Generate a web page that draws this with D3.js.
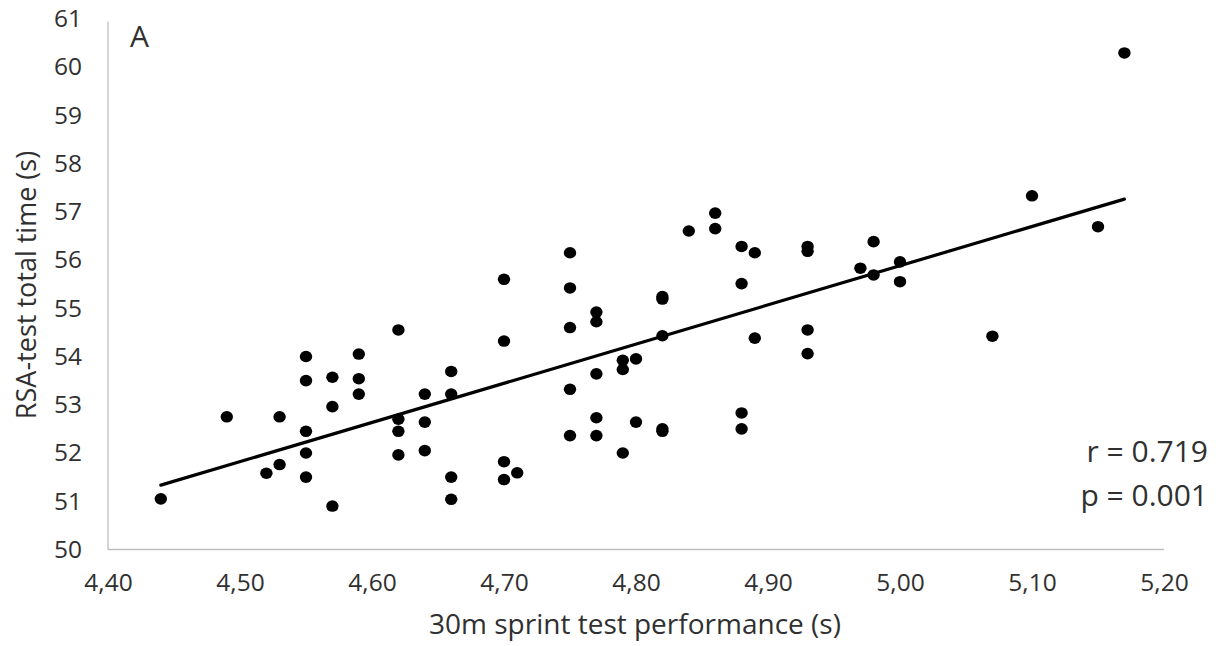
<!DOCTYPE html>
<html>
<head>
<meta charset="utf-8">
<script src="https://cdn.jsdelivr.net/npm/d3@7"></script>
<style>
  html, body { margin: 0; padding: 0; background: #fff; }
  svg { display: block; }
  text { font-family: "Open Sans", sans-serif; fill: #303030; }
</style>
</head>
<body>
<svg id="chart" width="1226" height="646"></svg>
<script>
// 30m sprint test performance (s)
const sprint = [
  4.44, 4.49, 4.52, 4.53, 4.53, 4.55, 4.55, 4.55, 4.55, 4.55,
  4.57, 4.57, 4.57, 4.59, 4.59, 4.59, 4.62, 4.62, 4.62, 4.62,
  4.64, 4.64, 4.64, 4.66, 4.66, 4.66, 4.66, 4.70, 4.70, 4.70,
  4.70, 4.71, 4.75, 4.75, 4.75, 4.75, 4.75, 4.77, 4.77, 4.77,
  4.77, 4.77, 4.79, 4.79, 4.79, 4.80, 4.80, 4.82, 4.82, 4.82,
  4.82, 4.82, 4.84, 4.86, 4.86, 4.88, 4.88, 4.88, 4.88, 4.89,
  4.89, 4.93, 4.93, 4.93, 4.93, 4.97, 4.98, 4.98, 5.00, 5.00,
  5.07, 5.10, 5.15, 5.17
];
// RSA-test total time (s)
const rsa = [
  51.05, 52.75, 51.58, 52.75, 51.76, 54.00, 53.50, 52.45, 52.00, 51.50,
  53.57, 52.96, 50.90, 54.05, 53.54, 53.22, 54.55, 52.70, 52.45, 51.96,
  53.22, 52.64, 52.05, 53.69, 53.22, 51.50, 51.04, 55.60, 54.32, 51.82,
  51.45, 51.59, 56.15, 55.42, 54.60, 53.32, 52.36, 54.92, 54.72, 53.64,
  52.73, 52.36, 53.92, 53.73, 52.00, 53.95, 52.64, 55.24, 55.19, 54.43,
  52.50, 52.45, 56.60, 56.97, 56.65, 56.28, 55.51, 52.83, 52.50, 56.15,
  54.38, 56.28, 56.18, 54.55, 54.06, 55.83, 56.38, 55.69, 55.96, 55.55,
  54.42, 57.33, 56.69, 60.29
];
const xTicks = [4.40, 4.50, 4.60, 4.70, 4.80, 4.90, 5.00, 5.10, 5.20];
const yTicks = [50, 51, 52, 53, 54, 55, 56, 57, 58, 59, 60, 61];
const xTitle = "30m sprint test performance (s)";
const yTitle = "RSA-test total time (s)";
const panelLabel = "A";
const statLines = ["r = 0.719", "p = 0.001"];

const svg = d3.select("#chart");
const x = d3.scaleLinear().domain([4.40, 5.20]).range([108, 1164]);
const y = d3.scaleLinear().domain([50, 61]).range([549.5, 18.7]);

const points = sprint.map((v, i) => ({ x: v, y: rsa[i] }));

// axes lines
svg.append("line")
  .attr("x1", x(4.40)).attr("x2", x(4.40))
  .attr("y1", y(61) + 3).attr("y2", y(50))
  .attr("stroke", "#bfbfbf").attr("stroke-width", 1.3);
svg.append("line")
  .attr("x1", x(4.40)).attr("x2", x(5.20))
  .attr("y1", y(50)).attr("y2", y(50))
  .attr("stroke", "#bfbfbf").attr("stroke-width", 1.3);

// axis tick labels via d3 axes (no tick marks)
const fmtX = d => d3.format(".2f")(d).replace(".", ",");
const gx = svg.append("g").attr("transform", `translate(0,${y(50)})`)
  .call(d3.axisBottom(x).tickValues(xTicks).tickFormat(fmtX).tickSize(0).tickPadding(24));
gx.select(".domain").remove();
gx.selectAll("text").attr("font-size", 24.5).attr("font-family", "Open Sans, sans-serif").attr("fill", "#303030");

const gy = svg.append("g").attr("transform", `translate(${x(4.40)},0)`)
  .call(d3.axisLeft(y).tickValues(yTicks).tickFormat(d3.format("d")).tickSize(0).tickPadding(26));
gy.select(".domain").remove();
gy.selectAll("text").attr("font-size", 24.5).attr("font-family", "Open Sans, sans-serif").attr("fill", "#303030");

// regression line (least squares)
const mx = d3.mean(sprint), my = d3.mean(rsa);
const sxy = d3.sum(points, p => (p.x - mx) * (p.y - my));
const sxx = d3.sum(points, p => (p.x - mx) ** 2);
const slope = sxy / sxx, intercept = my - slope * mx;
const [xmin, xmax] = d3.extent(sprint);
svg.append("line")
  .attr("x1", x(xmin)).attr("y1", y(intercept + slope * xmin))
  .attr("x2", x(xmax)).attr("y2", y(intercept + slope * xmax))
  .attr("stroke", "#000").attr("stroke-width", 3.2).attr("stroke-linecap", "round");

// points
svg.append("g").selectAll("ellipse").data(points).join("ellipse")
  .attr("cx", d => x(d.x)).attr("cy", d => y(d.y))
  .attr("rx", 6.2).attr("ry", 5.8).attr("fill", "#000");

// titles
svg.append("text").attr("x", 635).attr("y", 634)
  .attr("text-anchor", "middle").attr("font-size", 28).text(xTitle);
svg.append("text").attr("transform", "translate(36,285) rotate(-90)")
  .attr("text-anchor", "middle").attr("font-size", 27).text(yTitle);

svg.append("text").attr("x", 130).attr("y", 47).attr("font-size", 30).text(panelLabel);

svg.append("g").selectAll("text").data(statLines).join("text")
  .attr("x", 1208).attr("y", (d, i) => 462 + i * 44)
  .attr("text-anchor", "end").attr("font-size", 30).text(d => d);
</script>
</body>
</html>
